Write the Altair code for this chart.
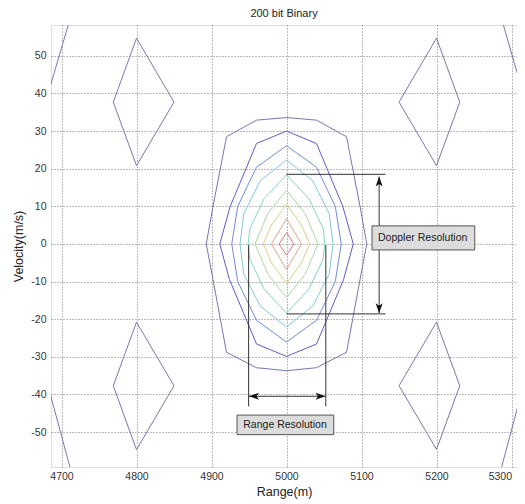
import altair as alt
import pandas as pd

# ---------------- data ----------------
X_DOMAIN = [4686, 5307.3]
Y_DOMAIN = [-59.3, 58.2]
x_ticks = [4700, 4800, 4900, 5000, 5100, 5200, 5300]
y_ticks = [-50, -40, -30, -20, -10, 0, 10, 20, 30, 40, 50]

c1_r = [5000, 4960, 4920, 4902, 4893, 4902, 4920, 4960, 5000, 5040, 5080, 5098, 5107, 5098, 5080, 5040, 5000]
c1_v = [33.6, 32.9, 28.5, 10.0, 0.0, -9.5, -28.8, -32.9, -33.7, -32.9, -28.8, -9.5, 0.0, 10.0, 28.5, 32.9, 33.6]

c2_r = [5000, 4960, 4925, 4911, 4924, 4960, 5000, 5040, 5076, 5089, 5075, 5040, 5000]
c2_v = [30.0, 26.7, 10.0, 0.0, -9.5, -26.6, -29.9, -26.6, -9.5, 0.0, 10.0, 26.7, 30.0]

c3_r = [5000, 4960, 4935, 4927, 4935, 4960, 5000, 5040, 5065, 5073, 5065, 5040, 5000]
c3_v = [26.1, 20.4, 10.0, 0.0, -10.0, -20.3, -26.1, -20.3, -10.0, 0.0, 10.0, 20.4, 26.1]

c4_r = [5000, 4965, 4943, 4938, 4943, 4965, 5000, 5035, 5057, 5062, 5057, 5035, 5000]
c4_v = [22.3, 16.8, 8.0, 0.0, -8.0, -16.5, -22.1, -16.5, -8.0, 0.0, 8.0, 16.8, 22.3]

c5_r = [5000, 4970, 4951, 4949, 4951, 4970, 5000, 5030, 5049, 5051, 5049, 5030, 5000]
c5_v = [18.4, 12.0, 4.0, 0.0, -4.0, -12.0, -18.4, -12.0, -4.0, 0.0, 4.0, 12.0, 18.4]

c6_r = [5000, 4975, 4958, 4975, 5000, 5025, 5042, 5025, 5000]
c6_v = [14.3, 8.0, 0.0, -8.0, -14.3, -8.0, 0.0, 8.0, 14.3]

c7_r = [5000, 4980, 4969, 4980, 5000, 5020, 5031, 5020, 5000]
c7_v = [10.5, 5.0, 0.0, -5.0, -10.5, -5.0, 0.0, 5.0, 10.5]

c8_r = [5000, 4980, 5000, 5020, 5000]
c8_v = [6.7, 0.0, -6.8, 0.0, 6.7]

c9_r = [5000, 4990, 5000, 5010, 5000]
c9_v = [3.0, 0.0, -3.0, 0.0, 3.0]

dtl_r = [4800, 4769, 4800, 4850, 4800]
dtl_v = [54.7, 37.7, 20.8, 37.7, 54.7]
dbl_r = [4800, 4769, 4800, 4850, 4800]
dbl_v = [-20.8, -37.7, -54.7, -37.7, -20.8]
dtr_r = [5200, 5150, 5200, 5231, 5200]
dtr_v = [54.7, 37.7, 20.8, 37.7, 54.7]
dbr_r = [5200, 5150, 5200, 5231, 5200]
dbr_v = [-20.8, -37.7, -54.6, -37.7, -20.8]

etl_r = [4670, 4720]
etl_v = [31.7, 65.7]
ebl_r = [4670, 4720]
ebl_v = [-28.8, -65.8]
etr_r = [5280, 5330]
etr_v = [64.5, 30.0]
ebr_r = [5280, 5330]
ebr_v = [-64.4, -27.0]

contour_names = ["c1", "c2", "c3", "c4", "c5", "c6", "c7", "c8", "c9",
                 "dtl", "dbl", "dtr", "dbr", "etl", "ebl", "etr", "ebr"]
contour_r = [c1_r, c2_r, c3_r, c4_r, c5_r, c6_r, c7_r, c8_r, c9_r,
             dtl_r, dbl_r, dtr_r, dbr_r, etl_r, ebl_r, etr_r, ebr_r]
contour_v = [c1_v, c2_v, c3_v, c4_v, c5_v, c6_v, c7_v, c8_v, c9_v,
             dtl_v, dbl_v, dtr_v, dbr_v, etl_v, ebl_v, etr_v, ebr_v]
contour_colors = ["#7676b4", "#5c5cc8", "#6f8cdc", "#84c6dc", "#84d6c6",
                  "#aad8a2", "#dcd080", "#e0a68c", "#d47c7c",
                  "#7878b2", "#7878b2", "#7878b2", "#7878b2",
                  "#7878b2", "#7878b2", "#7878b2", "#7878b2"]

# annotation segments (data coordinates)
seg_r = [5000, 5000, 5123.5, 4949.5, 5052.4, 4950]
seg_r2 = [5132, 5132, 5123.5, 4949.5, 5052.4, 5052]
seg_v = [18.5, -18.6, 17.9, -0.3, -0.3, -40.5]
seg_v2 = [18.5, -18.6, -18.4, -43.2, -43.2, -40.5]

arrow_r = [5123.5, 5123.5, 4950, 5052]
arrow_v = [17.9, -18.4, -40.5, -40.5]
arrow_dir = ["up", "down", "left", "right"]

box_r = [5114, 4934]
box_r2 = [5251, 5063]
box_v = [4.8, -45.5]
box_v2 = [-1.6, -50.7]

label_text = ["Doppler Resolution", "Range Resolution"]
label_r = [5122, 4998]
label_v = [1.6, -48.1]
label_align = ["left", "center"]

# ---------------- build tables ----------------
rows = []
for name, rs, vs in zip(contour_names, contour_r, contour_v):
    for i, (r, v) in enumerate(zip(rs, vs)):
        rows.append({"cid": name, "ord": i, "r": r, "v": v})
cdf = pd.DataFrame(rows)

segdf = pd.DataFrame({"r": seg_r, "r2": seg_r2, "v": seg_v, "v2": seg_v2})
arrdf = pd.DataFrame({"r": arrow_r, "v": arrow_v, "dir": arrow_dir})
boxdf = pd.DataFrame({"r": box_r, "r2": box_r2, "v": box_v, "v2": box_v2})
labdf = pd.DataFrame({"t": label_text, "r": label_r, "v": label_v, "a": label_align})

FONT = "Liberation Sans"
xs = alt.Scale(domain=X_DOMAIN, nice=False, zero=False)
ys = alt.Scale(domain=Y_DOMAIN, nice=False, zero=False)

x_axis = alt.Axis(values=x_ticks, labelExpr="'' + datum.value", title="Range(m)", grid=True,
                  gridDash=[1, 2], gridColor="#555", gridOpacity=0.8, ticks=False,
                  domain=False, labelFont=FONT, labelFontSize=10.5, labelColor="#333",
                  labelPadding=4, labelFlush=8, titleFont=FONT, titleFontSize=12.5,
                  titleFontWeight="normal", titleColor="#222", titlePadding=4)
y_axis = alt.Axis(values=y_ticks, labelExpr="'' + datum.value", title="Velocity(m/s)", grid=True,
                  gridDash=[1, 2], gridColor="#555", gridOpacity=0.8, ticks=False,
                  domain=False, labelFont=FONT, labelFontSize=10.5, labelColor="#333",
                  labelPadding=5, titleFont=FONT, titleFontSize=12.5,
                  titleFontWeight="normal", titleColor="#222", titlePadding=5)

lines = alt.Chart(cdf).mark_line(clip=True, strokeWidth=1).encode(
    x=alt.X("r:Q", scale=xs, axis=x_axis),
    y=alt.Y("v:Q", scale=ys, axis=y_axis),
    detail="cid:N",
    order="ord:Q",
    color=alt.Color("cid:N", scale=alt.Scale(domain=contour_names, range=contour_colors), legend=None),
)

segs = alt.Chart(segdf).mark_rule(color="#333", strokeWidth=1).encode(
    x=alt.X("r:Q", scale=xs), x2="r2:Q",
    y=alt.Y("v:Q", scale=ys), y2="v2:Q",
)

arrow_paths = ["M0,0 L0.7,2 L0,1.5 L-0.7,2 Z",
               "M0,0 L0.7,-2 L0,-1.5 L-0.7,-2 Z",
               "M0,0 L2,0.7 L1.5,0 L2,-0.7 Z",
               "M0,0 L-2,0.7 L-1.5,0 L-2,-0.7 Z"]
arrows = alt.Chart(arrdf).mark_point(filled=True, size=100, color="#111", opacity=1).encode(
    x=alt.X("r:Q", scale=xs),
    y=alt.Y("v:Q", scale=ys),
    shape=alt.Shape("dir:N", scale=alt.Scale(domain=arrow_dir, range=arrow_paths), legend=None),
)

boxes = alt.Chart(boxdf).mark_rect(fill="#dcdcdc", stroke="#555", strokeWidth=1).encode(
    x=alt.X("r:Q", scale=xs), x2="r2:Q",
    y=alt.Y("v:Q", scale=ys), y2="v2:Q",
)

labels_left = alt.Chart(labdf[labdf.a == "left"]).mark_text(
    align="left", baseline="middle", font=FONT, fontSize=10.5, color="#222"
).encode(x=alt.X("r:Q", scale=xs), y=alt.Y("v:Q", scale=ys), text="t:N")
labels_center = alt.Chart(labdf[labdf.a == "center"]).mark_text(
    align="center", baseline="middle", font=FONT, fontSize=10.5, color="#222"
).encode(x=alt.X("r:Q", scale=xs), y=alt.Y("v:Q", scale=ys), text="t:N")

chart = alt.layer(lines, segs, arrows, boxes, labels_left, labels_center).properties(
    width=466, height=442,
    title=alt.TitleParams("200 bit Binary", font=FONT, fontSize=11,
                          fontWeight="normal", color="#222", offset=6),
    autosize=alt.AutoSizeParams(type="none"),
    padding={"left": 43, "top": 17, "right": 0, "bottom": 36},
).configure_view(fill="#dadada", stroke="#7a7a7a", strokeWidth=1.2
).configure(background="white")

chart.save("out.html", embed_options={"renderer": "svg", "actions": False})
